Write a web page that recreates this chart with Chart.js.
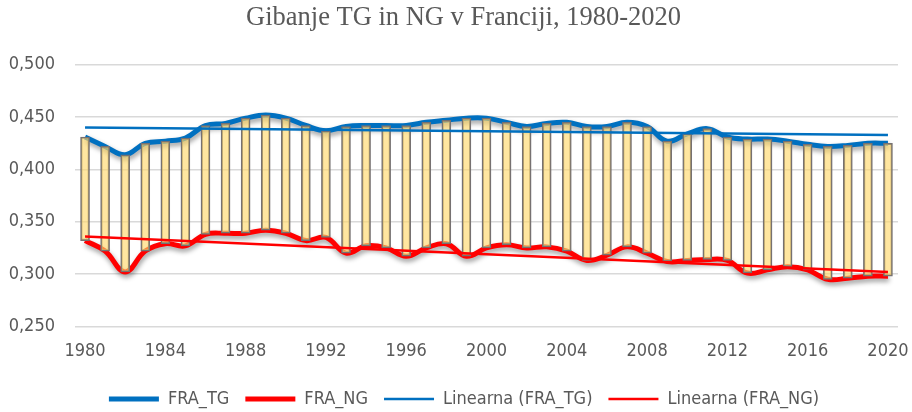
<!DOCTYPE html>
<html>
<head>
<meta charset="utf-8">
<script src="https://cdn.jsdelivr.net/npm/chart.js@4.4.1/dist/chart.umd.min.js"></script>
<style>
  html, body { margin: 0; padding: 0; background: #fff; }
  #wrap { width: 912px; height: 412px; }
</style>
</head>
<body>
<div id="wrap"><canvas id="tgChart" width="912" height="412"></canvas></div>
<script>
// years 1980..2020
const years = ['1980','1981','1982','1983','1984','1985','1986','1987','1988','1989',
  '1990','1991','1992','1993','1994','1995','1996','1997','1998','1999',
  '2000','2001','2002','2003','2004','2005','2006','2007','2008','2009',
  '2010','2011','2012','2013','2014','2015','2016','2017','2018','2019','2020'];

const fraTG = [0.431, 0.422, 0.414, 0.425, 0.427, 0.430, 0.442, 0.444, 0.449, 0.452,
  0.449, 0.442, 0.437, 0.441, 0.442, 0.442, 0.442, 0.445, 0.447, 0.449,
  0.449, 0.445, 0.441, 0.444, 0.445, 0.441, 0.441, 0.445, 0.441, 0.427,
  0.434, 0.439, 0.431, 0.429, 0.429, 0.427, 0.424, 0.422, 0.423, 0.425, 0.425];

const fraNG = [0.332, 0.322, 0.302, 0.322, 0.329, 0.327, 0.338, 0.339, 0.339, 0.342,
  0.339, 0.332, 0.335, 0.320, 0.327, 0.325, 0.317, 0.325, 0.329, 0.317,
  0.325, 0.328, 0.325, 0.326, 0.322, 0.313, 0.318, 0.326, 0.320, 0.312,
  0.313, 0.314, 0.313, 0.301, 0.304, 0.307, 0.304, 0.295, 0.296, 0.298, 0.298];

// trendline ends (1980, 2020)
const trendYears = ['1980', '2020'];
const trendTG = [0.440, 0.433];
const trendNG = [0.336, 0.302];

const yTicks = [0.25, 0.30, 0.35, 0.40, 0.45, 0.50];

const labelFont = '"DejaVu Sans Condensed", sans-serif';

// soft shadow under the two thick lines
const shadowPlugin = {
    id: 'lineShadow',
    beforeDatasetDraw(chart, args) {
        const ds = chart.data.datasets[args.index];
        if (ds.shadow) {
            const ctx = chart.ctx;
            ctx.save();
            ctx.shadowColor = 'rgba(0,0,0,0.4)';
            ctx.shadowBlur = 5;
            ctx.shadowOffsetX = 1;
            ctx.shadowOffsetY = 3;
        }
    },
    afterDatasetDraw(chart, args) {
        const ds = chart.data.datasets[args.index];
        if (ds.shadow) chart.ctx.restore();
    }
};

// legend a bit lower (x axis takes the space), title + legend centred over the plot
const layoutTweaks = {
    id: 'layoutTweaks',
    beforeInit(chart) {
        const fit = chart.legend.fit;
        chart.legend.fit = function () {
            fit.call(this);
            this.height -= 6;
        };
    },
    afterLayout(chart) {
        chart.titleBlock.left += 29;
        chart.legend.left += 30;
    }
};

const data = {
    labels: years,
    datasets: [
        {
            type: 'line',
            label: 'FRA_TG',
            data: fraTG,
            borderColor: '#0070C0',
            backgroundColor: '#0070C0',
            borderWidth: 5,
            pointRadius: 0,
            tension: 0.4,
            shadow: true,
            order: 3
        },
        {
            type: 'line',
            label: 'FRA_NG',
            data: fraNG,
            borderColor: '#FF0000',
            backgroundColor: '#FF0000',
            borderWidth: 5,
            pointRadius: 0,
            tension: 0.4,
            shadow: true,
            order: 3
        },
        {
            type: 'bar',
            label: 'bars',
            data: fraNG.map((v, i) => [v, fraTG[i]]),
            backgroundColor: 'rgba(255, 214, 102, 0.62)',
            borderColor: '#767171',
            borderWidth: 1.5,
            borderSkipped: false,
            barThickness: 9,
            order: 2
        },
        {
            type: 'line',
            label: 'Linearna (FRA_TG)',
            data: trendYears.map((y, i) => ({ x: y, y: trendTG[i] })),
            borderColor: '#0070C0',
            backgroundColor: '#0070C0',
            borderWidth: 2.5,
            pointRadius: 0,
            order: 1
        },
        {
            type: 'line',
            label: 'Linearna (FRA_NG)',
            data: trendYears.map((y, i) => ({ x: y, y: trendNG[i] })),
            borderColor: '#FF0000',
            backgroundColor: '#FF0000',
            borderWidth: 2.5,
            pointRadius: 0,
            order: 1
        }
    ]
};

const config = {
    data: data,
    plugins: [shadowPlugin, layoutTweaks],
    options: {
        responsive: false,
        animation: false,
        layout: { padding: { left: 0, right: 14, top: 0, bottom: 0 } },
        plugins: {
            title: {
                display: true,
                text: 'Gibanje TG in NG v Franciji, 1980-2020',
                color: '#595959',
                font: { family: '"Liberation Serif", "Times New Roman", serif', size: 26.5, weight: 'normal' },
                padding: { top: 2, bottom: 31 }
            },
            legend: {
                position: 'bottom',
                labels: {
                    filter: item => item.text !== 'bars',
                    sort: (a, b) => a.datasetIndex - b.datasetIndex,
                    usePointStyle: true,
                    pointStyle: 'line',
                    pointStyleWidth: 50,
                    color: '#595959',
                    font: { family: labelFont, size: 18 },
                    padding: 16
                }
            },
            tooltip: { enabled: false }
        },
        scales: {
            x: {
                type: 'category',
                offset: true,
                grid: { display: false },
                border: { display: false },
                afterFit: s => { s.height += 6; s.paddingLeft = 0; s.paddingRight = 0; },
                ticks: {
                    autoSkip: false,
                    maxRotation: 0,
                    padding: 6,
                    color: '#595959',
                    font: { family: labelFont, size: 18 },
                    callback: (v, i) => (i % 4 === 0 ? years[i] : '')
                }
            },
            y: {
                min: 0.25,
                max: 0.5,
                afterBuildTicks: s => { s.ticks = yTicks.map(v => ({ value: v })); },
                afterFit: s => { s.width = 75; },
                grid: { color: '#d9d9d9', lineWidth: 1.5, drawTicks: false },
                border: { display: false },
                ticks: {
                    padding: 20,
                    color: '#595959',
                    font: { family: labelFont, size: 18 },
                    callback: v => v.toFixed(3).replace('.', ',')
                }
            }
        }
    }
};

const tgChart = new Chart(document.getElementById('tgChart'), config);
</script>
</body>
</html>
